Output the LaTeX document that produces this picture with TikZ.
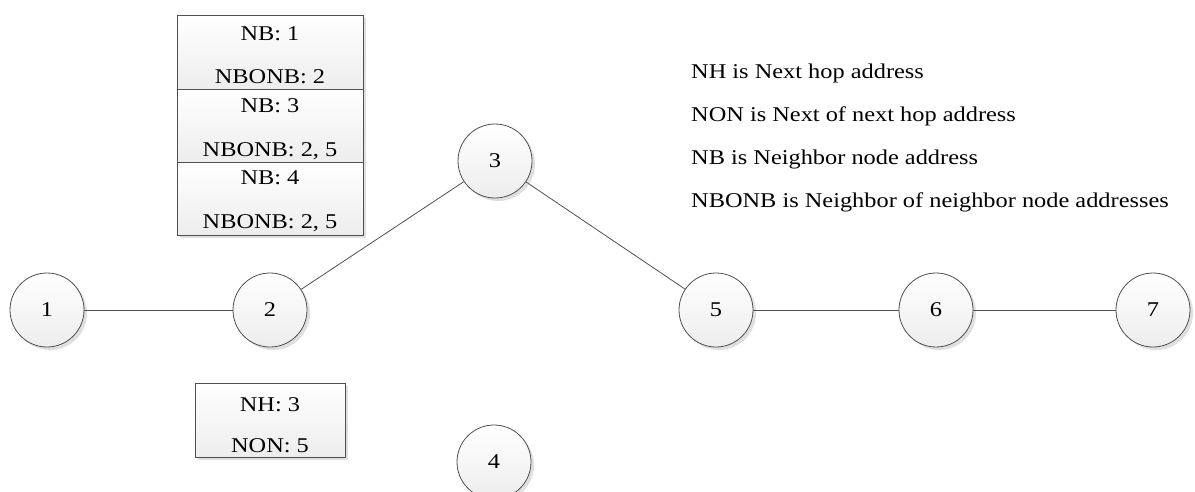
\documentclass[tikz,border=0pt]{standalone}
\usepackage{fontspec}
\setmainfont{Liberation Serif}[FakeStretch=1.16]
\usetikzlibrary{shadows}
\definecolor{edgegray}{HTML}{505050}
\definecolor{shadegray}{HTML}{EDEDED}
\tikzset{
  base/.style={draw=edgegray, line width=0.8pt, top color=white, bottom color=shadegray,
    drop shadow={shadow xshift=3pt, shadow yshift=-3pt, fill=black!25, opacity=0.5}},
  station/.style={base, circle, minimum size=74pt, inner sep=0pt,
    font=\fontsize{21}{25}\selectfont},
  table/.style={base, rectangle, inner sep=0pt},
  txt/.style={font=\fontsize{21}{25}\selectfont, inner sep=0pt, anchor=base},
  legend/.style={txt, anchor=base west},
  link/.style={draw=edgegray, line width=0.8pt}
}
\begin{document}
\begin{tikzpicture}[x=1pt, y=-1pt]
\useasboundingbox (0,0) rectangle (1195,491);

% stations
\node[station] (n1) at (47,310) {1};
\node[station] (n2) at (270,310) {2};
\node[station] (n3) at (495,161) {3};
\node[station] (n4) at (494,462) {4};
\node[station] (n5) at (716,310) {5};
\node[station] (n6) at (936,310) {6};
\node[station] (n7) at (1153,310) {7};

% links
\draw[link] (n1) -- (n2);
\draw[link] (n2) -- (n3);
\draw[link] (n3) -- (n5);
\draw[link] (n5) -- (n6);
\draw[link] (n6) -- (n7);

% neighbor tables of node 2
\node[table, minimum width=186pt, minimum height=74pt] (t1) at (270,52) {};
\node[table, minimum width=186pt, minimum height=73pt] (t2) at (270,125.5) {};
\node[table, minimum width=186pt, minimum height=73pt] (t3) at (270,198.5) {};
\node[txt] (t1a) at (270,40) {NB: 1};
\node[txt] (t1b) at (270,83) {NBONB: 2};
\node[txt] (t2a) at (270,112) {NB: 3};
\node[txt] (t2b) at (270,156) {NBONB: 2, 5};
\node[txt] (t3a) at (270,184) {NB: 4};
\node[txt] (t3b) at (270,228) {NBONB: 2, 5};

% routing table of node 2
\node[table, minimum width=150pt, minimum height=74pt] (r1) at (270,420) {};
\node[txt] (r1a) at (270,411) {NH: 3};
\node[txt] (r1b) at (270,452) {NON: 5};

% legend
\node[legend] (l1) at (691,78) {NH is Next hop address};
\node[legend] (l2) at (691,121) {NON is Next of next hop address};
\node[legend] (l3) at (691,164) {NB is Neighbor node address};
\node[legend] (l4) at (691,207) {NBONB is Neighbor of neighbor node addresses};
\end{tikzpicture}
\end{document}
